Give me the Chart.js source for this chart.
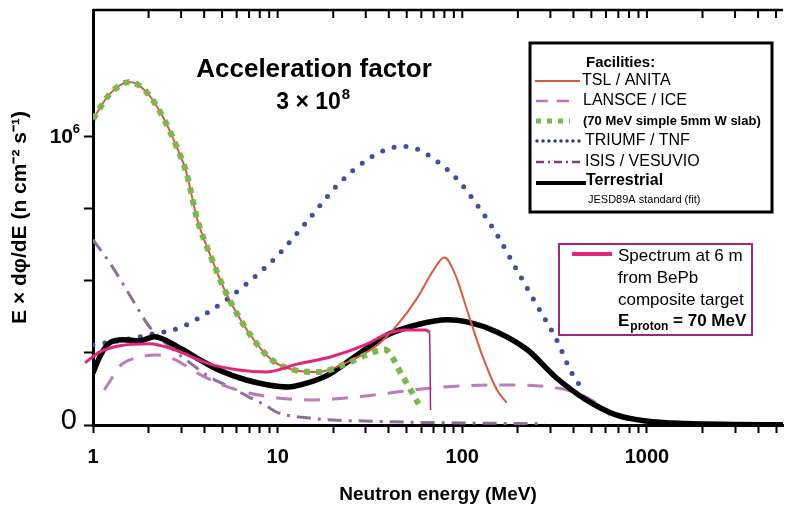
<!DOCTYPE html>
<html>
<head>
<meta charset="utf-8">
<script src="https://cdn.jsdelivr.net/npm/chart.js@4/dist/chart.umd.min.js"></script>
<style>
  html, body { margin: 0; padding: 0; background: #fff; }
  #wrap { width: 788px; height: 510px; }
</style>
</head>
<body>
<div id="wrap"><canvas id="spectra" width="788" height="510"></canvas></div>
<script>
// neutron energy (MeV) and E x dphi/dE (n cm-2 s-1)
const tslE = [1.0, 1.23, 1.58, 1.95, 2.38, 2.83, 3.2, 3.67, 4.37, 5.25, 6.98, 9.28, 12.2, 16.6, 24, 34.8, 44.6, 57.2, 69, 80, 91.6, 106, 128, 154, 174];
const tslV = [1.061e6, 1.148e6, 1.19e6, 1.155e6, 1.071e6, 0.967e6, 0.877e6, 0.713e6, 0.581e6, 0.459e6, 0.32e6, 0.226e6, 0.191e6, 0.184e6, 0.219e6, 0.278e6, 0.348e6, 0.442e6, 0.532e6, 0.581e6, 0.522e6, 0.40e6, 0.243e6, 0.122e6, 0.077e6];

const slabE = [1.0, 1.23, 1.58, 1.95, 2.38, 2.83, 3.2, 3.67, 4.37, 5.25, 6.98, 9.28, 12.2, 16.6, 24, 32, 38, 47, 58];
const slabV = [1.061e6, 1.148e6, 1.19e6, 1.155e6, 1.071e6, 0.967e6, 0.877e6, 0.713e6, 0.581e6, 0.459e6, 0.32e6, 0.226e6, 0.191e6, 0.184e6, 0.215e6, 0.25e6, 0.262e6, 0.174e6, 0.073e6];

const lansceE = [1.15, 1.25, 1.4, 1.7, 2.2, 2.8, 3.5, 5, 7, 10, 15, 20, 30, 45, 70, 100, 150, 250, 400, 550, 630];
const lansceV = [0.122e6, 0.157e6, 0.205e6, 0.233e6, 0.243e6, 0.226e6, 0.188e6, 0.139e6, 0.111e6, 0.094e6, 0.087e6, 0.09e6, 0.101e6, 0.115e6, 0.129e6, 0.136e6, 0.139e6, 0.136e6, 0.115e6, 0.07e6, 0.035e6];

const triumfE = [1.0, 1.5, 2.0, 2.93, 4.41, 6.7, 10.1, 14.7, 21.3, 30.8, 39.4, 47.5, 57, 73, 94, 120, 154, 197, 253, 324, 389, 430];
const triumfV = [0.278e6, 0.296e6, 0.313e6, 0.337e6, 0.40e6, 0.487e6, 0.591e6, 0.713e6, 0.835e6, 0.922e6, 0.957e6, 0.967e6, 0.957e6, 0.915e6, 0.852e6, 0.765e6, 0.661e6, 0.539e6, 0.417e6, 0.296e6, 0.184e6, 0.14e6];

const isisE = [1.0, 1.25, 1.6, 2.02, 2.6, 3.3, 4.26, 5.5, 7.0, 8.5, 10.1, 15, 20, 30, 50, 100, 200, 280];
const isisV = [0.643e6, 0.557e6, 0.445e6, 0.341e6, 0.271e6, 0.219e6, 0.167e6, 0.132e6, 0.097e6, 0.07e6, 0.042e6, 0.024e6, 0.017e6, 0.014e6, 0.01e6, 0.007e6, 0.005e6, 0.0035e6];

const terrE = [1.0, 1.1, 1.23, 1.45, 1.79, 2.15, 2.93, 3.8, 4.8, 6.7, 8.9, 11.4, 14.5, 18.8, 27, 39.4, 57, 83, 106, 154, 225, 324, 469, 680, 990, 1610, 3000, 5460];
const terrV = [0.181e6, 0.243e6, 0.285e6, 0.296e6, 0.292e6, 0.306e6, 0.268e6, 0.226e6, 0.191e6, 0.157e6, 0.139e6, 0.132e6, 0.146e6, 0.174e6, 0.243e6, 0.313e6, 0.348e6, 0.365e6, 0.358e6, 0.323e6, 0.261e6, 0.163e6, 0.087e6, 0.035e6, 0.014e6, 0.005e6, 0.002e6, 0.001e6];

const bepbE = [0.906, 1.09, 1.40, 2.02, 2.76, 4.26, 6.16, 8.6, 12.9, 19.5, 29.7, 39.4, 48.8, 62.6, 66.5, 67.3];
const bepbV = [0.216e6, 0.254e6, 0.275e6, 0.282e6, 0.261e6, 0.212e6, 0.191e6, 0.184e6, 0.212e6, 0.237e6, 0.278e6, 0.317e6, 0.33e6, 0.33e6, 0.32e6, 0.052e6];

const xTicks = [1, 2, 3, 4, 5, 6, 7, 8, 9, 10, 20, 30, 40, 50, 60, 70, 80, 90, 100, 200, 300, 400, 500, 600, 700, 800, 900, 1000, 2000, 3000, 4000, 5000];
const xLabels = [1, 10, 100, 1000];
const yTicks = [0, 0.25e6, 0.5e6, 0.75e6, 1e6];

const FONT = '"Liberation Sans", Arial, sans-serif';

function pts(xs, ys) {
  return xs.map((x, i) => ({ x: x, y: ys[i] }));
}

// titles, legends, frame pieces
const extras = {
  id: 'extras',
  afterDraw(chart) {
    const c = chart.ctx;
    const a = chart.chartArea;
    const xs = chart.scales.x;
    const ys = chart.scales.y;
    c.save();

    // top frame with inward ticks
    c.strokeStyle = '#000';
    c.lineWidth = 2.5;
    c.beginPath();
    c.moveTo(a.left, a.top);
    c.lineTo(a.right, a.top);
    c.stroke();
    c.lineWidth = 2;
    xTicks.forEach(v => {
      const px = xs.getPixelForValue(v);
      c.beginPath();
      c.moveTo(px, a.top);
      c.lineTo(px, a.top + 8);
      c.stroke();
    });

    // y tick labels
    c.fillStyle = '#000';
    c.textBaseline = 'middle';
    c.textAlign = 'right';
    c.font = '29px ' + FONT;
    c.fillText('0', 77, ys.getPixelForValue(0) - 4);
    const y6 = ys.getPixelForValue(1e6);
    c.font = 'bold 13px ' + FONT;
    c.fillText('6', 80, y6 - 7);
    c.font = 'bold 21px ' + FONT;
    c.fillText('10', 73, y6);

    // title
    c.textAlign = 'center';
    c.font = 'bold 26px ' + FONT;
    c.fillText('Acceleration factor', 314, 70);
    c.font = 'bold 23px ' + FONT;
    const t1 = '3 \u00d7 10';
    const w1 = c.measureText(t1).width;
    c.textAlign = 'left';
    c.fillText(t1, 314 - (w1 + 11) / 2, 103);
    c.font = 'bold 15px ' + FONT;
    c.fillText('8', 314 - (w1 + 11) / 2 + w1 + 1, 95);

    // facilities legend
    c.lineWidth = 3;
    c.strokeStyle = '#000';
    c.strokeRect(530, 43, 242, 169);
    c.textAlign = 'left';
    c.font = 'bold 15px ' + FONT;
    c.fillText('Facilities:', 586, 63);

    const row = (y, color, width, dash, cap, x0, x1) => {
      c.save();
      c.strokeStyle = color;
      c.lineWidth = width;
      c.setLineDash(dash);
      c.lineCap = cap;
      c.beginPath();
      c.moveTo(x0, y);
      c.lineTo(x1, y);
      c.stroke();
      c.restore();
    };
    row(81, '#dc5a3c', 2, [], 'butt', 535, 580);
    row(101, '#c070c0', 2.5, [12, 9], 'butt', 536, 572);
    row(121, '#79b84a', 5, [5, 6], 'butt', 536, 570);
    row(141, '#2e3a96', 3.5, [0, 6], 'round', 537, 583);
    row(162, '#7a3f80', 2.5, [8, 4, 2, 4], 'butt', 536, 583);
    row(183, '#000', 4, [], 'butt', 536, 586);

    c.font = '16px ' + FONT;
    c.fillText('TSL / ANITA', 582, 81);
    c.fillText('LANSCE / ICE', 583, 101);
    c.fillText('TRIUMF / TNF', 585, 141);
    c.fillText('ISIS / VESUVIO', 585, 162);
    c.font = 'bold 13px ' + FONT;
    c.fillText('(70 MeV simple 5mm W slab)', 583, 121);
    c.font = 'bold 16px ' + FONT;
    c.fillText('Terrestrial', 586, 181);
    c.font = '11px ' + FONT;
    c.fillText('JESD89A standard (fit)', 588, 200);

    // spectrum legend
    c.lineWidth = 2;
    c.strokeStyle = '#9c2a78';
    c.strokeRect(559, 244, 193, 91);
    row(254, '#e0267e', 4, [], 'butt', 572, 612);
    c.font = '17px ' + FONT;
    c.fillText('Spectrum at 6 m', 618, 256);
    c.fillText('from BePb', 618, 278);
    c.fillText('composite target', 618, 300);
    c.font = 'bold 17px ' + FONT;
    c.fillText('E', 618, 321);
    const we = c.measureText('E').width;
    c.font = 'bold 12px ' + FONT;
    c.fillText('proton', 618 + we + 1, 327);
    const wp = c.measureText('proton').width;
    c.font = 'bold 17px ' + FONT;
    c.fillText(' = 70 MeV', 618 + we + 1 + wp, 321);

    c.restore();
  }
};

const ctx = document.getElementById('spectra').getContext('2d');
new Chart(ctx, {
  type: 'line',
  data: {
    datasets: [
      {
        label: 'Spectrum at 6 m',
        data: pts(bepbE, bepbV),
        borderColor: '#e0267e',
        borderWidth: 3,
        clip: { left: 10, top: 0, right: 0, bottom: 0 },
        segment: {
          borderWidth: s => (s.p1DataIndex === bepbE.length - 1 ? 1.5 : undefined),
          borderColor: s => (s.p1DataIndex === bepbE.length - 1 ? '#a8207a' : undefined)
        },
        order: 1
      },
      {
        label: '(70 MeV simple 5mm W slab)',
        data: pts(slabE, slabV),
        borderColor: '#79b84a',
        borderWidth: 6,
        borderDash: [6, 6],
        order: 2
      },
      {
        label: 'TSL / ANITA',
        data: pts(tslE, tslV),
        borderColor: '#dc5a3c',
        borderWidth: 2,
        order: 3
      },
      {
        label: 'Terrestrial',
        data: pts(terrE, terrV),
        borderColor: '#000',
        borderWidth: 5.5,
        order: 4
      },
      {
        label: 'TRIUMF / TNF',
        data: pts(triumfE, triumfV),
        borderColor: '#3f4fa3',
        borderWidth: 5,
        borderDash: [0, 12],
        borderCapStyle: 'round',
        order: 5
      },
      {
        label: 'LANSCE / ICE',
        data: pts(lansceE, lansceV),
        borderColor: '#bc7cbc',
        borderWidth: 3,
        borderDash: [16, 12],
        order: 6
      },
      {
        label: 'ISIS / VESUVIO',
        data: pts(isisE, isisV),
        borderColor: '#8d6f98',
        borderWidth: 3,
        borderDash: [14, 7, 3, 7],
        order: 7
      }
    ]
  },
  options: {
    responsive: false,
    animation: false,
    layout: { padding: { top: 10, right: 0, left: 0, bottom: 0 } },
    elements: {
      point: { radius: 0 },
      line: { cubicInterpolationMode: 'monotone', fill: false }
    },
    plugins: {
      legend: { display: false },
      tooltip: { enabled: false }
    },
    scales: {
      x: {
        type: 'logarithmic',
        min: 1,
        max: 5460,
        afterFit: s => { s.height = 85; },
        afterBuildTicks: s => { s.ticks = xTicks.map(v => ({ value: v })); },
        ticks: {
          autoSkip: false,
          maxRotation: 0,
          minRotation: 0,
          padding: 12,
          color: '#000',
          font: { family: FONT, size: 20, weight: 'bold' },
          callback: v => (xLabels.includes(v) ? String(v) : '')
        },
        grid: { drawOnChartArea: false, color: '#000', tickLength: 8, tickWidth: 2 },
        border: { color: '#000', width: 3 },
        title: {
          display: true,
          text: 'Neutron energy (MeV)',
          color: '#000',
          font: { family: FONT, size: 19, weight: 'bold' },
          padding: { top: 0, bottom: 4 }
        }
      },
      y: {
        min: 0,
        max: 1.44e6,
        afterFit: s => { s.width = 93; },
        afterBuildTicks: s => { s.ticks = yTicks.map(v => ({ value: v })); },
        ticks: { callback: () => '', padding: 0 },
        grid: { drawOnChartArea: false, color: '#000', tickLength: 9, tickWidth: 2 },
        border: { color: '#000', width: 3 },
        title: {
          display: true,
          text: 'E \u00d7 d\u03c6/dE (n cm\u207b\u00b2 s\u207b\u00b9)',
          color: '#000',
          font: { family: FONT, size: 21, weight: 'bold' },
          padding: { top: 8, bottom: 0 }
        }
      }
    }
  },
  plugins: [extras]
});
</script>
</body>
</html>
